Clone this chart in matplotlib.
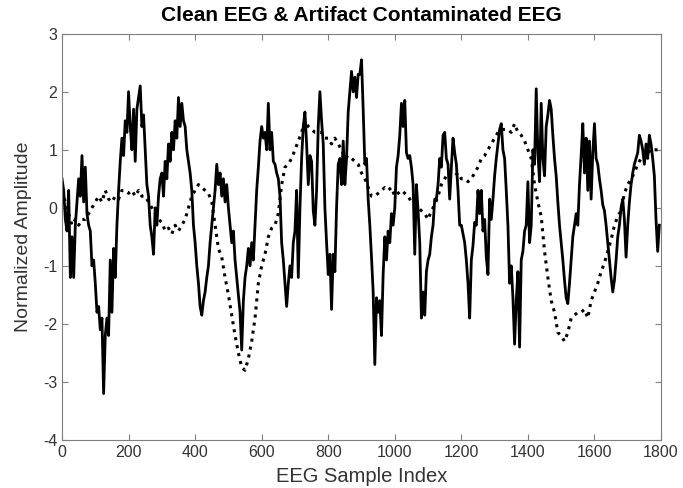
import numpy as np
import matplotlib.pyplot as plt

# valores (sinal continuo a cada 5 amostras, pontilhado a cada 10)
solido = [
    0.5, 0.3, -0.2, -0.4, 0.3, -1.2, -0.5, -1.2, -0.3, 0.1, 0.5, 0.2, 0.9, 0.1, 0.7, -0.1, -0.3, -0.4, -1.0, -0.9,
    -1.3, -1.8, -1.7, -2.1, -1.9, -3.2, -2.2, -1.9, -2.2, -0.9, -1.8, -0.7, -1.2, -0.3, 0.3, 0.8, 1.2, 0.9, 1.5, 1.3,
    2.0, 1.4, 1.0, 1.7, 0.8, 1.7, 1.9, 2.1, 1.4, 1.6, 1.0, 0.4, 0.2, -0.3, -0.5, -0.8, 0.0, -0.3, 0.2, 0.5,
    0.6, 0.2, 0.8, 0.5, 1.1, 0.8, 1.3, 1.0, 1.5, 1.2, 1.9, 1.4, 1.8, 1.5, 1.4, 1.0, 0.8, 0.6, 0.3, -0.3,
    -0.6, -1.0, -1.3, -1.7, -1.85, -1.6, -1.45, -1.2, -1.0, -0.6, -0.3, 0.0, 0.3, 0.75, 0.4, 0.6, 0.2, 0.5, 0.1, 0.4,
    0.0, -0.3, -0.6, -0.4, -0.9, -1.2, -1.5, -1.8, -2.45, -1.6, -1.2, -1.0, -0.7, -1.0, -0.6, -0.9, -0.3, 0.3, 0.7, 1.15,
    1.4, 1.2, 1.3, 1.0, 1.8, 1.0, 1.3, 0.8, 0.75, 0.6, 0.5, 0.2, -0.6, -0.9, -1.3, -1.7, -1.3, -1.0, -1.2, -0.6,
    -0.4, 0.3, -1.2, 0.0, 0.85, 1.4, 1.65, 1.1, 0.4, 0.9, 0.8, -0.05, -0.3, 0.3, 1.4, 2.0, 1.5, 1.1, 0.0, -0.6,
    -1.15, -0.8, -1.75, -0.8, -1.1, 0.0, 0.75, 0.85, 0.4, 1.15, 0.4, 0.85, 1.65, 2.0, 2.35, 2.0, 2.25, 1.9, 2.3, 2.3,
    2.55, 1.7, 0.75, 0.85, 0.15, -0.3, -0.85, -1.45, -2.7, -1.55, -1.8, -1.6, -2.2, -1.15, -0.5, -0.9, -0.4, -0.6, -0.1, -0.3,
    0.0, 0.7, 0.9, 1.25, 1.8, 1.4, 1.85, 0.95, 0.85, 0.9, 0.7, 0.4, -0.8, 0.4, -0.05, -0.6, -1.9, -1.45, -1.85, -1.1,
    -0.9, -0.8, -0.5, -0.3, 0.15, 0.15, 0.4, 0.85, 0.7, 1.25, 1.3, 0.85, 0.75, 0.15, 0.7, 1.2, 0.95, 0.75, 0.3, -0.3,
    -0.3, -0.45, -0.6, -0.9, -1.3, -1.9, -0.9, -0.65, -0.25, -0.3, 0.3, -0.1, 0.3, -0.4, -0.2, -0.85, -1.15, 0.15, -0.2, 0.15,
    0.55, 0.85, 1.1, 1.35, 1.45, 1.0, 0.85, 0.3, -0.3, -1.3, -1.0, -1.55, -2.35, -1.6, -1.1, -2.4, -0.9, -0.75, -0.4, -0.3,
    0.45, -0.6, -0.3, 1.0, 0.75, 2.05, 0.95, 0.45, 1.8, 0.85, 0.55, 1.4, 1.6, 1.85, 1.7, 1.25, 0.85, 0.55, 0.1, -0.3,
    -0.6, -0.9, -1.25, -1.55, -1.65, -1.3, -0.9, -0.5, -0.3, -0.1, -0.3, 0.4, 0.9, 1.45, 0.6, 1.2, 0.3, 1.15, 0.15, 0.95,
    1.45, 0.85, 0.75, 0.5, 0.3, 0.05, -0.05, -0.3, -0.6, -0.9, -1.2, -1.45, -1.25, -0.9, -0.5, -0.3, 0.0, 0.15, -0.2, -0.85,
    -0.3, 0.1, 0.4, 0.6, 0.75, 0.85, 0.95, 1.25, 1.15, 1.0, 0.75, 1.1, 0.85, 1.25, 1.1, 0.85, 0.55, -0.2, -0.75, -0.3,
]
pontilhado = [
    0.3, 0.1, -0.1, -0.3, -0.2, -0.3, -0.2, -0.2, -0.1, 0.0,
    0.1, 0.2, 0.1, 0.3, 0.15, 0.1, 0.2, 0.15, 0.3, 0.3,
    0.25, 0.3, 0.2, 0.3, 0.2, 0.2, 0.1, 0.0, -0.1, -0.2,
    -0.25, -0.4, -0.35, -0.45, -0.3, -0.4, -0.3, -0.2, 0.0, 0.2,
    0.3, 0.4, 0.35, 0.3, 0.25, 0.1, -0.3, -0.7, -0.85, -1.2,
    -1.5, -1.85, -2.2, -2.5, -2.75, -2.8, -2.6, -2.3, -1.9, -1.3,
    -1.0, -0.8, -0.5, -0.35, -0.3, -0.1, 0.4, 0.7, 0.75, 0.85,
    1.0, 1.15, 1.3, 1.5, 1.4, 1.35, 1.3, 1.3, 1.3, 1.2,
    1.2, 1.1, 1.2, 1.1, 1.0, 0.85, 0.9, 0.85, 0.8, 0.75,
    0.6, 0.5, 0.35, 0.2, 0.2, 0.25, 0.3, 0.35, 0.3, 0.35,
    0.2, 0.25, 0.3, 0.25, 0.2, 0.1, 0.05, 0.0, -0.05, -0.1,
    -0.2, -0.05, 0.05, 0.2, 0.4, 0.5, 0.6, 0.55, 0.55, 0.6,
    0.5, 0.5, 0.45, 0.5, 0.6, 0.7, 0.85, 0.9, 1.0, 1.1,
    1.2, 1.3, 1.35, 1.35, 1.35, 1.3, 1.45, 1.3, 1.25, 1.15,
    1.0, 0.85, 0.4, 0.1, -0.15, -0.75, -1.2, -1.6, -1.8, -2.15,
    -2.2, -2.3, -2.15, -1.9, -1.85, -1.8, -1.8, -1.75, -1.9, -1.6,
    -1.45, -1.3, -1.1, -0.95, -0.75, -0.55, -0.3, -0.15, -0.05, 0.25,
    0.4, 0.5, 0.6, 0.75, 0.85, 0.95, 1.0, 0.95, 1.0, 1.0,
]
passo_solido = 5
passo_pontilhado = 10

x_sol = np.arange(len(solido)) * passo_solido
x_pon = np.arange(len(pontilhado)) * passo_pontilhado

plt.rcParams['font.family'] = ['Liberation Sans', 'DejaVu Sans']
plt.rcParams['axes.unicode_minus'] = False
fig = plt.figure(figsize=(6.83, 4.88), dpi=100)
ax = fig.add_axes([0.0908, 0.0984, 0.877, 0.8326])

ax.plot(x_sol, solido, color='black', linewidth=2.0)
ax.plot(x_pon, pontilhado, color='black', linestyle=':', linewidth=2.2)

ax.set_xlim(0, 1800)
ax.set_ylim(-4, 3)
ax.set_xticks(range(0, 1801, 200))
ax.set_yticks(range(-4, 4))
ax.tick_params(direction='in', top=True, right=True, length=4,
               labelsize=11.5, colors='#7f7f7f', labelcolor='#333333')
for s in ax.spines.values():
    s.set_color('#7f7f7f')
    s.set_linewidth(0.8)

ax.set_title('Clean EEG & Artifact Contaminated EEG', fontsize=15,
             fontweight='bold', pad=9)
ax.set_xlabel('EEG Sample Index', fontsize=14.5, color='#333333', labelpad=5)
ax.set_ylabel('Normalized Amplitude', fontsize=14, color='#333333', labelpad=8)

fig.savefig('out.png', dpi=100)
